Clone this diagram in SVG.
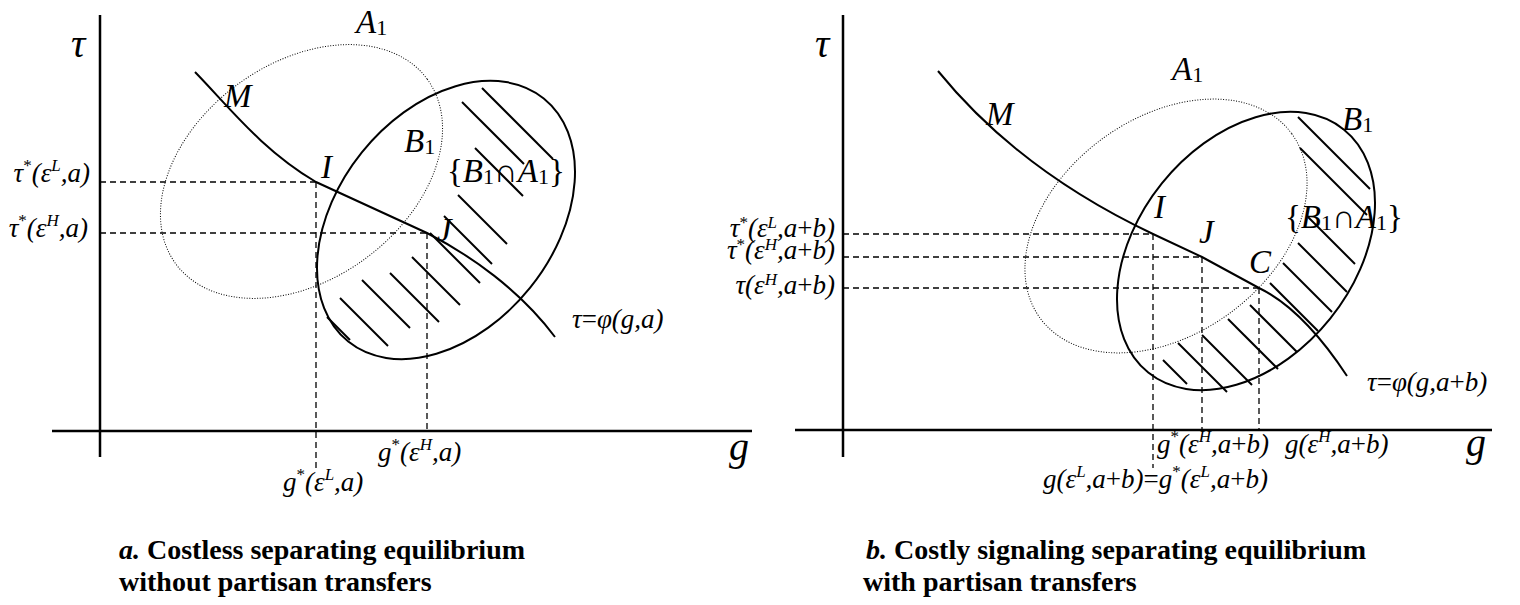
<svg xmlns="http://www.w3.org/2000/svg" width="1520" height="605" viewBox="0 0 1520 605">
<style>
.ax{stroke:#000;stroke-width:2.5;fill:none}
.cv{fill:none;stroke:#000;stroke-width:2}
.dot{fill:none;stroke:#000;stroke-width:1;stroke-dasharray:1 1.6}
.dash{stroke:#000;stroke-width:1.3;stroke-dasharray:6 4;fill:none}
.hatch line{stroke:#000;stroke-width:2}
text{font-family:"Liberation Serif","DejaVu Serif",serif;fill:#000}
.m{font-style:italic;font-size:27px}
.big{font-style:italic;font-size:33px}
.ax-t{font-style:italic;font-size:40px}
.sup{font-size:17px}
.st{font-style:normal}
.sub{font-style:normal;font-size:22px}
.cap{font-weight:bold;font-size:28px}
</style>

<g id="panel-a">
  <g id="axes-a">
    <line class="ax" x1="100" y1="15" x2="100" y2="457"/>
    <line class="ax" x1="52" y1="431" x2="752" y2="431"/>
  </g>
  <g id="set-A1-a">
    <ellipse class="dot" cx="301.5" cy="171.5" rx="156" ry="108" transform="rotate(-36.3 301.5 171.5)"/>
  </g>
  <g id="set-B1-a">
    <ellipse class="cv" cx="446" cy="220" rx="156" ry="108" transform="rotate(-51.2 446 220)"/>
  </g>
  <g id="hatch-a" class="hatch">
    <line x1="482" y1="88" x2="553" y2="159"/>
    <line x1="462" y1="102" x2="524" y2="164"/>
    <line x1="475" y1="148" x2="523" y2="196"/>
    <line x1="458" y1="195" x2="507" y2="244"/>
    <line x1="444" y1="216" x2="492" y2="264"/>
    <line x1="430" y1="233" x2="480" y2="283"/>
    <line x1="412" y1="257" x2="460" y2="305"/>
    <line x1="390" y1="273" x2="439" y2="322"/>
    <line x1="362" y1="280" x2="410" y2="328"/>
    <line x1="340" y1="298" x2="388" y2="346"/>
    <line x1="327" y1="317" x2="350" y2="340"/>
  </g>
  <g id="curve-a">
    <path class="cv" d="M195,72 C230,108 262,150 316,182 L427,233 C470,255 520,290 555,337"/>
  </g>
  <g id="guides-a">
    <line class="dash" x1="100" y1="182" x2="316" y2="182"/>
    <line class="dash" x1="100" y1="233" x2="427" y2="233"/>
    <line class="dash" x1="316" y1="182" x2="316" y2="470"/>
    <line class="dash" x1="427" y1="233" x2="427" y2="431"/>
  </g>
  <g id="labels-a">
    <text class="ax-t" x="71" y="57">τ</text>
    <text class="ax-t" x="729" y="460" font-size="33">g</text>
    <text class="big" x="356" y="33">A<tspan class="sub" dy="2">1</tspan></text>
    <text class="big" x="404" y="152">B<tspan class="sub" dy="2">1</tspan></text>
    <text class="big" x="224" y="107">M</text>
    <text class="big" x="321" y="178">I</text>
    <text class="big" x="437" y="241">J</text>
    <text class="big" x="447" y="182" font-size="28"><tspan class="st">{</tspan>B<tspan class="sub" dy="2" font-size="19">1</tspan><tspan class="st" dy="-2">∩</tspan>A<tspan class="sub" dy="2" font-size="19">1</tspan><tspan class="st" dy="-2">}</tspan></text>
    <text class="m" x="572" y="328" font-size="34">τ<tspan class="st">=</tspan>φ(g,a)</text>
    <text class="m" x="90" y="182" text-anchor="end">τ<tspan class="sup st" dy="-11">*</tspan><tspan dy="11">(ε</tspan><tspan class="sup" dy="-11">L</tspan><tspan dy="11">,a)</tspan></text>
    <text class="m" x="88" y="237" text-anchor="end">τ<tspan class="sup st" dy="-11">*</tspan><tspan dy="11">(ε</tspan><tspan class="sup" dy="-11">H</tspan><tspan dy="11">,a)</tspan></text>
    <text class="m" x="378" y="461">g<tspan class="sup st" dy="-11">*</tspan><tspan dy="11">(ε</tspan><tspan class="sup" dy="-11">H</tspan><tspan dy="11">,a)</tspan></text>
    <text class="m" x="283" y="491">g<tspan class="sup st" dy="-11">*</tspan><tspan dy="11">(ε</tspan><tspan class="sup" dy="-11">L</tspan><tspan dy="11">,a)</tspan></text>
  </g>
  <g id="caption-a">
    <text class="cap" x="119" y="559"><tspan font-style="italic">a.</tspan> Costless separating equilibrium</text>
    <text class="cap" x="119" y="591">without partisan transfers</text>
  </g>
</g>

<g id="panel-b">
  <g id="axes-b">
    <line class="ax" x1="843" y1="15" x2="843" y2="457"/>
    <line class="ax" x1="795" y1="430" x2="1492" y2="430"/>
  </g>
  <g id="set-A1-b">
    <ellipse class="dot" cx="1166" cy="226" rx="156" ry="108" transform="rotate(-36.3 1166 226)"/>
  </g>
  <g id="set-B1-b">
    <ellipse class="cv" cx="1246" cy="251" rx="156" ry="108" transform="rotate(-51.2 1246 251)"/>
  </g>
  <g id="hatch-b" class="hatch">
    <line x1="1298" y1="117" x2="1370" y2="189"/>
    <line x1="1300" y1="148" x2="1367" y2="215"/>
    <line x1="1308" y1="217" x2="1355" y2="264"/>
    <line x1="1298" y1="243" x2="1347" y2="292"/>
    <line x1="1283" y1="263" x2="1332" y2="312"/>
    <line x1="1270" y1="283" x2="1318" y2="331"/>
    <line x1="1250" y1="305" x2="1297" y2="352"/>
    <line x1="1228" y1="319" x2="1278" y2="369"/>
    <line x1="1202" y1="335" x2="1252" y2="385"/>
    <line x1="1178" y1="343" x2="1227" y2="392"/>
    <line x1="1163" y1="360" x2="1187" y2="384"/>
  </g>
  <g id="curve-b">
    <path class="cv" d="M938,71 C990,135 1060,190 1153,234 L1202,257 L1259,288 C1290,303 1320,335 1347,376"/>
  </g>
  <g id="guides-b">
    <line class="dash" x1="843" y1="234" x2="1153" y2="234"/>
    <line class="dash" x1="843" y1="257" x2="1202" y2="257"/>
    <line class="dash" x1="843" y1="288" x2="1259" y2="288"/>
    <line class="dash" x1="1153" y1="234" x2="1153" y2="468"/>
    <line class="dash" x1="1202" y1="257" x2="1202" y2="430"/>
    <line class="dash" x1="1259" y1="288" x2="1259" y2="430"/>
  </g>
  <g id="labels-b">
    <text class="ax-t" x="815" y="57">τ</text>
    <text class="ax-t" x="1466" y="456" font-size="33">g</text>
    <text class="big" x="1172" y="80">A<tspan class="sub" dy="2">1</tspan></text>
    <text class="big" x="1342" y="130">B<tspan class="sub" dy="2">1</tspan></text>
    <text class="big" x="986" y="125">M</text>
    <text class="big" x="1154" y="218">I</text>
    <text class="big" x="1199" y="243">J</text>
    <text class="big" x="1249" y="273">C</text>
    <text class="big" x="1285" y="228" font-size="28"><tspan class="st">{</tspan>B<tspan class="sub" dy="2" font-size="19">1</tspan><tspan class="st" dy="-2">∩</tspan>A<tspan class="sub" dy="2" font-size="19">1</tspan><tspan class="st" dy="-2">}</tspan></text>
    <text class="m" x="1367" y="391" font-size="34">τ<tspan class="st">=</tspan>φ(g,a<tspan class="st">+</tspan>b)</text>
    <text class="m" x="835" y="237" text-anchor="end" font-size="22">τ<tspan class="sup st" dy="-9" font-size="15">*</tspan><tspan dy="9">(ε</tspan><tspan class="sup" dy="-9" font-size="15">L</tspan><tspan dy="9">,a<tspan class="st">+</tspan>b)</tspan></text>
    <text class="m" x="835" y="259" text-anchor="end" font-size="22">τ<tspan class="sup st" dy="-9" font-size="15">*</tspan><tspan dy="9">(ε</tspan><tspan class="sup" dy="-9" font-size="15">H</tspan><tspan dy="9">,a<tspan class="st">+</tspan>b)</tspan></text>
    <text class="m" x="835" y="294" text-anchor="end" font-size="22">τ(ε<tspan class="sup" dy="-9" font-size="15">H</tspan><tspan dy="9">,a<tspan class="st">+</tspan>b)</tspan></text>
    <text class="m" x="1157" y="453">g<tspan class="sup st" dy="-11">*</tspan><tspan dy="11">(ε</tspan><tspan class="sup" dy="-11">H</tspan><tspan dy="11">,a<tspan class="st">+</tspan>b)</tspan></text>
    <text class="m" x="1285" y="453">g(ε<tspan class="sup" dy="-11">H</tspan><tspan dy="11">,a<tspan class="st">+</tspan>b)</tspan></text>
    <text class="m" x="1043" y="488">g(ε<tspan class="sup" dy="-11">L</tspan><tspan dy="11">,a<tspan class="st">+</tspan>b)<tspan class="st">=</tspan>g</tspan><tspan class="sup st" dy="-11">*</tspan><tspan dy="11">(ε</tspan><tspan class="sup" dy="-11">L</tspan><tspan dy="11">,a<tspan class="st">+</tspan>b)</tspan></text>
  </g>
  <g id="caption-b">
    <text class="cap" x="866" y="559"><tspan font-style="italic">b.</tspan> Costly signaling separating equilibrium</text>
    <text class="cap" x="863" y="591">with partisan transfers</text>
  </g>
</g>
</svg>
